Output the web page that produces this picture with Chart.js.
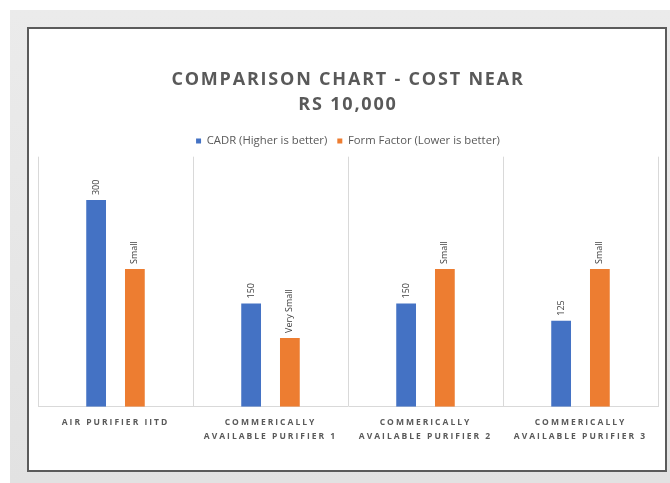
<!DOCTYPE html>
<html>
<head>
<meta charset="utf-8">
<script src="https://cdn.jsdelivr.net/npm/chart.js@4.4.0/dist/chart.umd.min.js"></script>
<style>
    html, body { margin: 0; padding: 0; background: #fff; }
    #page { position: relative; width: 670px; height: 483px; overflow: hidden; }
    #backdrop { position: absolute; left: 10px; top: 10px; width: 660px; height: 473px;
        background: linear-gradient(180deg, #ebebeb 0%, #e2e2e2 100%); }
    #frame { position: absolute; left: 27px; top: 27px; width: 636px; height: 441px;
        background: #fff; border: 2px solid #5b5b5b; }
    #chart-wrap { position: absolute; left: 0; top: 0; width: 670px; height: 483px; }
</style>
</head>
<body>
<div id="page">
    <div id="backdrop"></div>
    <div id="frame"></div>
    <div id="chart-wrap"><canvas id="comparison-chart" width="670" height="483"></canvas></div>
</div>
<script>
    // Kategori (label sumbu x, dipecah per baris)
    const purifiers = [
        ["AIR PURIFIER IITD"],
        ["COMMERICALLY", "AVAILABLE PURIFIER 1"],
        ["COMMERICALLY", "AVAILABLE PURIFIER 2"],
        ["COMMERICALLY", "AVAILABLE PURIFIER 3"],
    ];

    // CADR (nilai asli)
    const cadrValues = [300, 150, 150, 125];
    const cadrLabels = ["300", "150", "150", "125"];

    // Form factor: tinggi batang (perkiraan dari gambar) + teks labelnya
    const formFactorValues = [200, 100, 200, 200];
    const formFactorLabels = ["Small", "Very Small", "Small", "Small"];

    const textColor = "#595959";

    // Label teks diputar di atas tiap batang + spasi huruf untuk judul & sumbu x
    const barLabels = {
        id: "barLabels",
        beforeDraw(chart) {
            const title = chart.titleBlock;
            if (title && !title._spaced) {
                const draw = title.draw.bind(title);
                title.draw = (area) => {
                    chart.ctx.letterSpacing = "1.8px";
                    draw(area);
                    chart.ctx.letterSpacing = "0px";
                };
                title._spaced = true;
            }
        },
        afterDatasetsDraw(chart) {
            const ctx = chart.ctx;
            const texts = [cadrLabels, formFactorLabels];
            ctx.save();
            ctx.font = "9px 'Open Sans'";
            ctx.fillStyle = "#404040";
            ctx.textAlign = "left";
            ctx.textBaseline = "middle";
            chart.data.datasets.forEach((ds, i) => {
                chart.getDatasetMeta(i).data.forEach((bar, j) => {
                    ctx.save();
                    ctx.translate(bar.x, bar.y - 5);
                    ctx.rotate(-Math.PI / 2);
                    ctx.fillText(texts[i][j], 0, 0);
                    ctx.restore();
                });
            });
            ctx.restore();
            // label sumbu x digambar setelah ini (ticks z: 1)
            ctx.letterSpacing = "2px";
        },
        afterDraw(chart) {
            chart.ctx.letterSpacing = "0px";
        },
    };

    new Chart(document.getElementById("comparison-chart"), {
        type: "bar",
        data: {
            labels: purifiers,
            datasets: [
                {
                    label: "CADR (Higher is better)",
                    backgroundColor: "#4472c4",
                    data: cadrValues,
                },
                {
                    label: "Form Factor (Lower is better)",
                    backgroundColor: "#ed7d31",
                    data: formFactorValues,
                },
            ],
        },
        options: {
            responsive: false,
            animation: false,
            layout: { padding: { top: 55, left: 38, right: 12, bottom: 31 } },
            datasets: { bar: { categoryPercentage: 0.5, barPercentage: 0.51 } },
            scales: {
                x: {
                    grid: { offset: true, color: "#d9d9d9", drawTicks: false },
                    border: { color: "#d9d9d9" },
                    ticks: {
                        z: 1,
                        padding: 9,
                        maxRotation: 0,
                        autoSkip: false,
                        color: textColor,
                        font: { family: "'Open Sans'", size: 8.5, weight: "bold", lineHeight: 1.6 },
                    },
                },
                y: {
                    display: false,
                    beginAtZero: true,
                    max: 363,
                },
            },
            plugins: {
                title: {
                    display: true,
                    text: ["COMPARISON CHART - COST NEAR", "RS 10,000"],
                    color: textColor,
                    font: { family: "'Open Sans'", size: 18, weight: "bold", lineHeight: 1.4 },
                    padding: { top: 12, bottom: 8 },
                },
                legend: {
                    labels: {
                        color: textColor,
                        boxWidth: 5,
                        boxHeight: 5,
                        padding: 10,
                        font: { family: "'Open Sans'", size: 11.3 },
                    },
                },
                tooltip: { enabled: false },
            },
        },
        plugins: [barLabels],
    });
</script>
</body>
</html>
